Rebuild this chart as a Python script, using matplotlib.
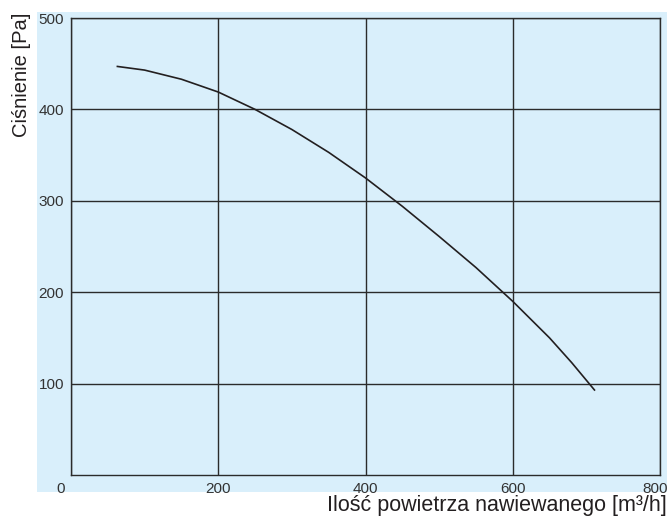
import matplotlib
matplotlib.use("Agg")
import matplotlib.pyplot as plt
import matplotlib.transforms as mtransforms
from matplotlib.patches import Rectangle

plt.rcParams['font.family'] = ['Liberation Sans', 'DejaVu Sans']

# przepływ [m3/h] i ciśnienie [Pa]
airflow = [63, 100, 150, 200, 250, 300, 350, 400, 450, 500, 550, 600, 650, 680, 711]
pressure = [447, 443, 433, 419, 400, 378, 353, 325, 294, 261, 227, 190, 150, 123, 93]

x_ticks = [0, 200, 400, 600, 800]
y_ticks = [100, 200, 300, 400, 500]

bg_blue = "#d9effb"
ink = "#231f20"

fig = plt.figure(figsize=(6.69, 5.17), dpi=100)
fig.patch.set_facecolor("white")

# niebieskie tło za całym wykresem (razem z opisami osi)
fig.patches.append(Rectangle((37 / 669, 25 / 517), 630 / 669, 480 / 517,
                             transform=fig.transFigure, facecolor=bg_blue,
                             edgecolor="none", zorder=-5))

ax = fig.add_axes([71 / 669, 42 / 517, 589 / 669, 457 / 517])
ax.set_facecolor(bg_blue)

ax.plot(airflow, pressure, color=ink, linewidth=1.2, zorder=3)

ax.set_xlim(0, 800)
ax.set_ylim(0, 500)
ax.set_xticks(x_ticks)
ax.set_yticks(y_ticks)
ax.grid(True, color="#2b2b2b", linewidth=1.0)
ax.set_axisbelow(True)

for s in ax.spines.values():
    s.set_color("#2b2b2b")
    s.set_linewidth(1.0)

ax.tick_params(length=0, labelsize=11, labelcolor="#333333")
ax.tick_params(axis="x", pad=5)
ax.tick_params(axis="y", pad=5)

# przesunięcie skrajnych etykiet osi x jak w oryginale
fig.canvas.draw()
xlabels = ax.get_xticklabels()
shift = {0: -10, 4: -5}
for i, lab in enumerate(xlabels):
    if i in shift:
        lab.set_transform(lab.get_transform() +
                          mtransforms.ScaledTranslation(shift[i] / 100, 0, fig.dpi_scale_trans))

fig.text(22 / 669, 1 - 13 / 517, "Ciśnienie [Pa]", rotation=90, ha="center", va="top",
         fontsize=14.5, color=ink)
fig.text(667 / 669, 1 - 506 / 517, "Ilość powietrza nawiewanego [m³/h]", ha="right",
         va="center", fontsize=15.5, color=ink)

fig.savefig("out.png", dpi=100)
